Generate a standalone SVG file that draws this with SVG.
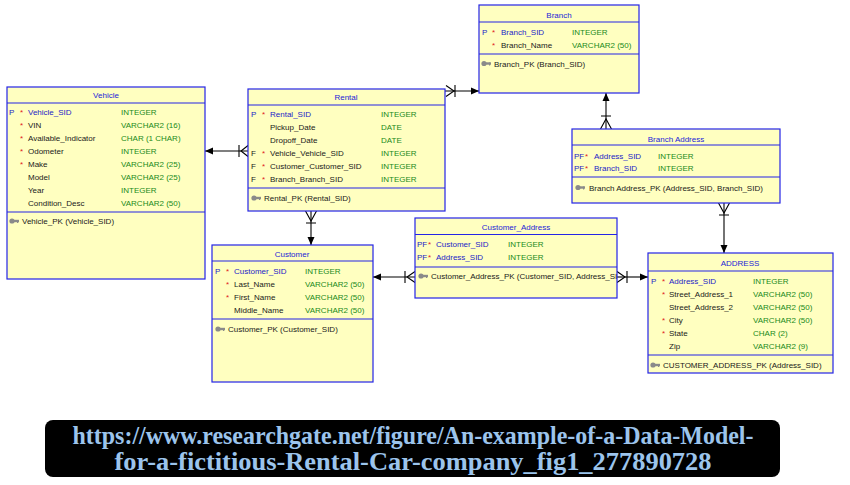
<svg xmlns="http://www.w3.org/2000/svg" width="850" height="485" viewBox="0 0 850 485">
<style>
.box{fill:#ffffc0;stroke:#2424e6;stroke-width:1.2}
.ln{stroke:#2424e6;stroke-width:1.2}
text{font-family:"Liberation Sans",Arial,sans-serif;font-size:8px}
.ttl{fill:#2424d8;text-anchor:middle}
.pk{fill:#1c1cc8}
.nm{fill:#1a1a1a}
.ty{fill:#1a8a1a}
.st{fill:#e02020}
.con{stroke:#000;stroke-width:1.1;fill:none}
.ah{fill:#000}
.ban{font-family:"Liberation Serif","Times New Roman",serif;font-size:25px;font-weight:bold;fill:#9cc4ec;text-anchor:middle}
</style>
<defs>
<g id="key"><circle cx="3" cy="0" r="2.6" fill="#8a8a8a"/><rect x="4" y="-1.2" width="6" height="2.4" fill="#8a8a8a"/><rect x="8" y="-1" width="1.2" height="3" fill="#8a8a8a"/></g>
<clipPath id="cpCA"><rect x="415" y="218" width="202" height="80"/></clipPath>
</defs>

<g id="connectors">
<line class="con" x1="205" y1="151" x2="248" y2="151"/>
<polygon class="ah" points="205,151 213,147.5 213,154.5"/>
<path class="con" d="M239,145V157M248,145.5L241,151L248,156.5"/>

<line class="con" x1="445" y1="91" x2="479" y2="91"/>
<polygon class="ah" points="479,91 471,87.5 471,94.5"/>
<path class="con" d="M455,85V97M446,85.5L454,91L446,96.5"/>

<line class="con" x1="606" y1="93" x2="606" y2="129"/>
<polygon class="ah" points="606,93 602.5,101 609.5,101"/>
<path class="con" d="M601,116H611M600.5,129L606,119L611.5,129"/>

<line class="con" x1="724" y1="203" x2="724" y2="253"/>
<polygon class="ah" points="724,253 720.5,245 727.5,245"/>
<path class="con" d="M719,215H729M718.5,203L724,213L729.5,203"/>

<line class="con" x1="311" y1="211" x2="311" y2="245"/>
<polygon class="ah" points="311,245 307.5,237 314.5,237"/>
<path class="con" d="M306,223H316M305.5,211L311,221L316.5,211"/>

<line class="con" x1="373" y1="277" x2="415" y2="277"/>
<polygon class="ah" points="373,277 381,273.5 381,280.5"/>
<path class="con" d="M405,271V283M415,271.5L407,277L415,282.5"/>

<line class="con" x1="617" y1="277" x2="648" y2="277"/>
<polygon class="ah" points="648,277 640,273.5 640,280.5"/>
<path class="con" d="M627,271V283M617,271.5L625,277L617,282.5"/>
</g>

<g id="vehicle">
<rect class="box" x="7" y="87" width="198" height="192"/>
<line class="ln" x1="7" y1="103" x2="205" y2="103"/>
<line class="ln" x1="7" y1="212" x2="205" y2="212"/>
<text class="ttl" x="106" y="98">Vehicle</text>
<text class="pk" x="9" y="115">P</text><text class="st" x="20" y="115">*</text><text class="pk" x="28" y="115">Vehicle_SID</text><text class="ty" x="121" y="115">INTEGER</text>
<text class="st" x="20" y="128">*</text><text class="nm" x="28" y="128">VIN</text><text class="ty" x="121" y="128">VARCHAR2 (16)</text>
<text class="st" x="20" y="141">*</text><text class="nm" x="28" y="141">Available_Indicator</text><text class="ty" x="121" y="141">CHAR (1 CHAR)</text>
<text class="st" x="20" y="154">*</text><text class="nm" x="28" y="154">Odometer</text><text class="ty" x="121" y="154">INTEGER</text>
<text class="st" x="20" y="167">*</text><text class="nm" x="28" y="167">Make</text><text class="ty" x="121" y="167">VARCHAR2 (25)</text>
<text class="nm" x="28" y="180">Model</text><text class="ty" x="121" y="180">VARCHAR2 (25)</text>
<text class="nm" x="28" y="193">Year</text><text class="ty" x="121" y="193">INTEGER</text>
<text class="nm" x="28" y="206">Condition_Desc</text><text class="ty" x="121" y="206">VARCHAR2 (50)</text>
<use href="#key" x="9" y="221"/>
<text class="nm" x="22" y="224">Vehicle_PK (Vehicle_SID)</text>
</g>

<g id="rental">
<rect class="box" x="248" y="89" width="197" height="122"/>
<line class="ln" x1="248" y1="105" x2="445" y2="105"/>
<line class="ln" x1="248" y1="188" x2="445" y2="188"/>
<text class="ttl" x="346" y="100">Rental</text>
<text class="pk" x="251" y="117">P</text><text class="st" x="262" y="117">*</text><text class="pk" x="270" y="117">Rental_SID</text><text class="ty" x="381" y="117">INTEGER</text>
<text class="nm" x="270" y="130">Pickup_Date</text><text class="ty" x="381" y="130">DATE</text>
<text class="nm" x="270" y="143">Dropoff_Date</text><text class="ty" x="381" y="143">DATE</text>
<text class="nm" x="251" y="156">F</text><text class="st" x="262" y="156">*</text><text class="nm" x="270" y="156">Vehicle_Vehicle_SID</text><text class="ty" x="381" y="156">INTEGER</text>
<text class="nm" x="251" y="169">F</text><text class="st" x="262" y="169">*</text><text class="nm" x="270" y="169">Customer_Customer_SID</text><text class="ty" x="381" y="169">INTEGER</text>
<text class="nm" x="251" y="182">F</text><text class="st" x="262" y="182">*</text><text class="nm" x="270" y="182">Branch_Branch_SID</text><text class="ty" x="381" y="182">INTEGER</text>
<use href="#key" x="251" y="198"/>
<text class="nm" x="264" y="201">Rental_PK (Rental_SID)</text>
</g>

<g id="branch">
<rect class="box" x="479" y="5" width="160" height="88"/>
<line class="ln" x1="479" y1="22" x2="639" y2="22"/>
<line class="ln" x1="479" y1="54" x2="639" y2="54"/>
<text class="ttl" x="559" y="18">Branch</text>
<text class="pk" x="482" y="35">P</text><text class="st" x="492" y="35">*</text><text class="pk" x="501" y="35">Branch_SID</text><text class="ty" x="572" y="35">INTEGER</text>
<text class="st" x="492" y="48">*</text><text class="nm" x="501" y="48">Branch_Name</text><text class="ty" x="572" y="48">VARCHAR2 (50)</text>
<use href="#key" x="481" y="63.5"/>
<text class="nm" x="494" y="66.5">Branch_PK (Branch_SID)</text>
</g>

<g id="branch-address">
<rect class="box" x="572" y="129" width="208" height="74"/>
<line class="ln" x1="572" y1="145" x2="780" y2="145"/>
<line class="ln" x1="572" y1="177" x2="780" y2="177"/>
<text class="ttl" x="676" y="141.5">Branch Address</text>
<text class="pk" x="574" y="158.5">PF</text><text class="st" x="585" y="158.5">*</text><text class="pk" x="594" y="158.5">Address_SID</text><text class="ty" x="658" y="158.5">INTEGER</text>
<text class="pk" x="574" y="171">PF</text><text class="st" x="585" y="171">*</text><text class="pk" x="594" y="171">Branch_SID</text><text class="ty" x="658" y="171">INTEGER</text>
<use href="#key" x="575" y="187.5"/>
<text class="nm" x="589" y="190.5">Branch Address_PK (Address_SID, Branch_SID)</text>
</g>

<g id="customer-address">
<rect class="box" x="415" y="218" width="202" height="80"/>
<line class="ln" x1="415" y1="234.5" x2="617" y2="234.5"/>
<line class="ln" x1="415" y1="267" x2="617" y2="267"/>
<text class="ttl" x="516" y="230">Customer_Address</text>
<text class="pk" x="417" y="247">PF</text><text class="st" x="428" y="247">*</text><text class="pk" x="436" y="247">Customer_SID</text><text class="ty" x="508" y="247">INTEGER</text>
<text class="pk" x="417" y="259.5">PF</text><text class="st" x="428" y="259.5">*</text><text class="pk" x="436" y="259.5">Address_SID</text><text class="ty" x="508" y="259.5">INTEGER</text>
<use href="#key" x="418" y="276"/>
<text class="nm" x="431" y="279" clip-path="url(#cpCA)">Customer_Address_PK (Customer_SID, Address_SID)</text>
</g>

<g id="customer">
<rect class="box" x="212" y="245" width="161" height="137"/>
<line class="ln" x1="212" y1="261" x2="373" y2="261"/>
<line class="ln" x1="212" y1="319" x2="373" y2="319"/>
<text class="ttl" x="292" y="257">Customer</text>
<text class="pk" x="215" y="274">P</text><text class="st" x="226" y="274">*</text><text class="pk" x="234" y="274">Customer_SID</text><text class="ty" x="305" y="274">INTEGER</text>
<text class="st" x="226" y="287">*</text><text class="nm" x="234" y="287">Last_Name</text><text class="ty" x="305" y="287">VARCHAR2 (50)</text>
<text class="st" x="226" y="300">*</text><text class="nm" x="234" y="300">First_Name</text><text class="ty" x="305" y="300">VARCHAR2 (50)</text>
<text class="nm" x="234" y="313">Middle_Name</text><text class="ty" x="305" y="313">VARCHAR2 (50)</text>
<use href="#key" x="215" y="329"/>
<text class="nm" x="228" y="332">Customer_PK (Customer_SID)</text>
</g>

<g id="address">
<rect class="box" x="648" y="253" width="185" height="120"/>
<line class="ln" x1="648" y1="271" x2="833" y2="271"/>
<line class="ln" x1="648" y1="355" x2="833" y2="355"/>
<text class="ttl" x="740" y="266">ADDRESS</text>
<text class="pk" x="651" y="283.5">P</text><text class="st" x="662" y="283.5">*</text><text class="pk" x="669" y="283.5">Address_SID</text><text class="ty" x="753" y="283.5">INTEGER</text>
<text class="st" x="662" y="296.5">*</text><text class="nm" x="669" y="296.5">Street_Address_1</text><text class="ty" x="753" y="296.5">VARCHAR2 (50)</text>
<text class="nm" x="669" y="309.5">Street_Address_2</text><text class="ty" x="753" y="309.5">VARCHAR2 (50)</text>
<text class="st" x="662" y="322.5">*</text><text class="nm" x="669" y="322.5">City</text><text class="ty" x="753" y="322.5">VARCHAR2 (50)</text>
<text class="st" x="662" y="335.5">*</text><text class="nm" x="669" y="335.5">State</text><text class="ty" x="753" y="335.5">CHAR (2)</text>
<text class="nm" x="669" y="348.5">Zip</text><text class="ty" x="753" y="348.5">VARCHAR2 (9)</text>
<use href="#key" x="650" y="365"/>
<text class="nm" x="663" y="368">CUSTOMER_ADDRESS_PK (Address_SID)</text>
</g>

<g id="banner">
<rect x="45" y="420" width="735" height="57" rx="8" fill="#000"/>
<text class="ban" x="413" y="444" textLength="681" lengthAdjust="spacingAndGlyphs">https://www.researchgate.net/figure/An-example-of-a-Data-Model-</text>
<text class="ban" x="413" y="470" textLength="597" lengthAdjust="spacingAndGlyphs">for-a-fictitious-Rental-Car-company_fig1_277890728</text>
</g>
</svg>
